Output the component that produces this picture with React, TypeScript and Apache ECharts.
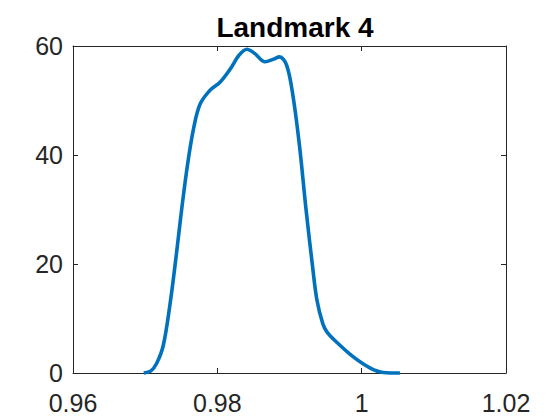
import React, { useEffect, useRef } from "react";
import * as echarts from "echarts";

const titleText = "Landmark 4";
const xTicks = [0.96, 0.98, 1, 1.02];
const yTicks = [0, 20, 40, 60];
const densityX = [
  0.9698, 0.9708, 0.9716, 0.9725, 0.9734, 0.9743, 0.9751, 0.9759, 0.9767, 0.9776,
  0.979, 0.9804, 0.9818, 0.983, 0.9841, 0.9852, 0.9866, 0.9878, 0.9886, 0.9896,
  0.9905, 0.9914, 0.9923, 0.9932, 0.9938, 0.9946, 0.9952, 0.9965, 0.9988, 1.0012,
  1.003, 1.0053,
];
const densityY = [
  0, 0.4, 1.8, 5.0, 12.2, 21.5, 30.5, 38.5, 44.8, 49.3,
  51.9, 53.4, 55.8, 58.3, 59.4, 58.6, 57.1, 57.6, 58.0, 56.5,
  50.7, 41.5, 29.9, 19.5, 13.4, 9.1, 7.5, 5.7, 3.0, 0.9,
  0.1, 0,
];

const AXIS = "#262626";
const FONT = "'Liberation Sans', Arial, Helvetica, sans-serif";

function fmt(v: number) {
  return String(Math.round(v * 100) / 100);
}

export default function App() {
  const ref = useRef<HTMLDivElement>(null);
  useEffect(() => {
    if (!ref.current) return;
    const chart = echarts.init(ref.current, undefined, { renderer: "svg" });
    const axisCommon = {
      axisLine: { show: true, onZero: false, lineStyle: { color: AXIS, width: 1 } },
      axisTick: { show: true, inside: true, length: 5, lineStyle: { color: AXIS, width: 1 } },
      splitLine: { show: false },
    };
    chart.setOption({
      animation: false,
      backgroundColor: "#ffffff",
      title: {
        text: titleText,
        left: 290,
        textAlign: "center",
        top: 8,
        textStyle: { fontFamily: FONT, fontWeight: "bold", fontSize: 28, color: "#000000" },
      },
      grid: { left: 73, right: 54, top: 46, bottom: 47, containLabel: false },
      xAxis: [
        {
          type: "value",
          min: xTicks[0],
          max: xTicks[xTicks.length - 1],
          interval: 0.02,
          position: "bottom",
          ...axisCommon,
          axisLabel: {
            show: true,
            margin: 17,
            fontFamily: FONT,
            fontSize: 25,
            color: AXIS,
            formatter: (v: number) => fmt(v),
          },
        },
        {
          type: "value",
          min: xTicks[0],
          max: xTicks[xTicks.length - 1],
          interval: 0.02,
          position: "top",
          ...axisCommon,
          axisLabel: { show: false },
        },
      ],
      yAxis: [
        {
          type: "value",
          min: yTicks[0],
          max: yTicks[yTicks.length - 1],
          interval: 20,
          position: "left",
          ...axisCommon,
          axisLabel: {
            show: true,
            margin: 10,
            fontFamily: FONT,
            fontSize: 25,
            color: AXIS,
            padding: [6, 0, 0, 0],
          },
        },
        {
          type: "value",
          min: yTicks[0],
          max: yTicks[yTicks.length - 1],
          interval: 20,
          position: "right",
          ...axisCommon,
          axisLabel: { show: false },
        },
      ],
      series: [
        {
          type: "line",
          data: densityX.map((x, i) => [x, densityY[i]]),
          smooth: 0.35,
          showSymbol: false,
          symbol: "none",
          lineStyle: { color: "#0072BD", width: 3.6 },
          clip: false,
        },
      ],
    });
    return () => chart.dispose();
  }, []);
  return (
    <div
      ref={ref}
      style={{ position: "fixed", left: 0, top: 0, width: 560, height: 420, background: "#fff" }}
    />
  );
}
